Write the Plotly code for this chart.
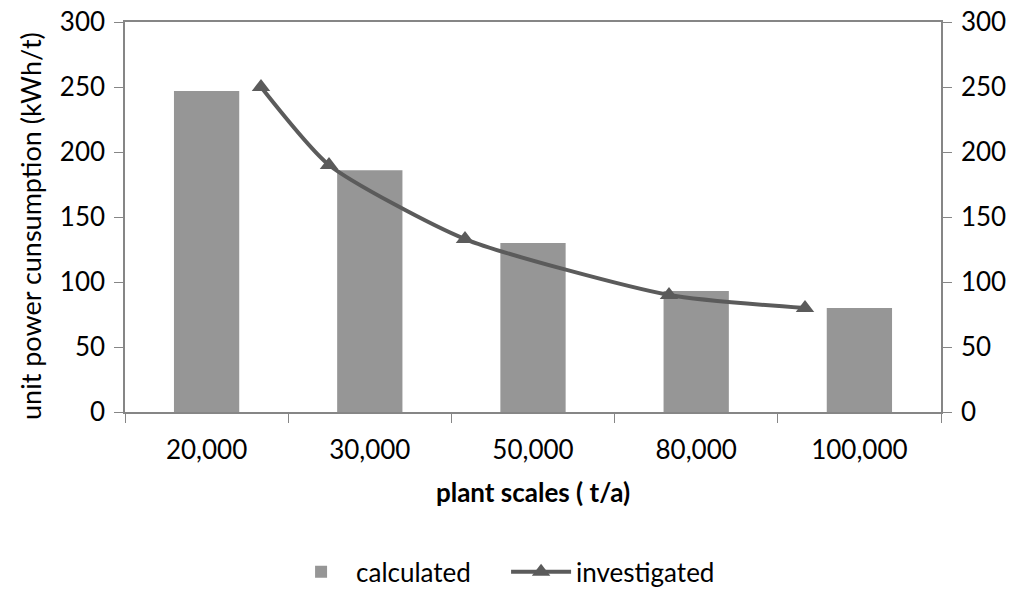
import plotly.graph_objects as go

categories = ["20,000", "30,000", "50,000", "80,000", "100,000"]
calculated = [247, 186, 130, 93, 80]
investigated_scale = [20000, 30000, 50000, 80000, 100000]
investigated = [250, 190, 133, 90, 80]

FONT = "Lato"
AXIS_COLOR = "#868686"

fig = go.Figure()
fig.add_trace(go.Bar(
    x=categories, y=calculated, name="calculated",
    marker=dict(color="#969696", line=dict(width=0)),
    width=0.4, xaxis="x", yaxis="y",
))
fig.add_trace(go.Scatter(
    x=investigated_scale, y=investigated, name="investigated",
    mode="lines+markers", line=dict(color="#5b5b5b", width=4, shape="spline", smoothing=0.6),
    marker=dict(symbol="triangle-up", size=16, color="#5b5b5b"),
    xaxis="x2", yaxis="y2",
))

tick_font = dict(family=FONT, size=26, color="#000000")

fig.update_layout(
    template="none",
    width=1024, height=607,
    margin=dict(l=125, r=83, t=22, b=189),
    plot_bgcolor="white", paper_bgcolor="white",
    font=dict(family=FONT, size=26, color="#000000"),
    showlegend=True,
    legend=dict(orientation="h", x=0.467, xanchor="center", y=-0.41, yanchor="middle",
                font=dict(family=FONT, size=26), itemwidth=60, tracegroupgap=0,
                entrywidth=145, entrywidthmode="pixels",
                bgcolor="rgba(0,0,0,0)"),
    xaxis=dict(
        type="category", tickson="boundaries", ticks="outside", ticklen=9,
        tickcolor=AXIS_COLOR, showline=True, linecolor=AXIS_COLOR, linewidth=1.5,
        mirror=True, showgrid=False, tickfont=tick_font, ticklabelstandoff=14,
        automargin=False,
        title=dict(text="<b>plant scales ( t/a)</b>", font=dict(family=FONT, size=26), standoff=20),
    ),
    xaxis2=dict(overlaying="x", range=[0, 120000], visible=False, anchor="y2"),
    yaxis=dict(
        range=[0, 300], dtick=50, ticks="outside", ticklen=9, tickcolor=AXIS_COLOR,
        showline=True, linecolor=AXIS_COLOR, linewidth=1.5, showgrid=False, zeroline=False,
        tickfont=tick_font, ticklabelstandoff=4, automargin=False, ticklabeloverflow="allow",
    ),
    yaxis2=dict(
        range=[0, 300], dtick=50, overlaying="y", side="right", anchor="x",
        ticks="outside", ticklen=9, tickcolor=AXIS_COLOR, showline=True,
        linecolor=AXIS_COLOR, linewidth=1.5, showgrid=False, zeroline=False,
        tickfont=tick_font, ticklabelstandoff=4, automargin=False, ticklabeloverflow="allow",
    ),
    annotations=[dict(
        text="unit power cunsumption (kWh/t)", textangle=-90,
        xref="paper", yref="paper", x=-0.1152, y=0.477,
        xanchor="center", yanchor="middle", showarrow=False,
        font=dict(family=FONT, size=27, color="#000000"),
    )],
)

post = """
document.documentElement.style.overflow='hidden';
document.body.style.margin='0';
var gd = document.getElementById('{plot_id}');
var H = window.innerHeight || 607;
var k = H / 607;
if (Math.abs(k - 1) > 0.005) {
  gd.style.height = H + 'px';
  Plotly.relayout(gd, {height: H, 'margin.t': 22 * k, 'margin.b': 189 * k});
}
"""

fig.write_html("out.html", config={"displayModeBar": False}, post_script=post)
